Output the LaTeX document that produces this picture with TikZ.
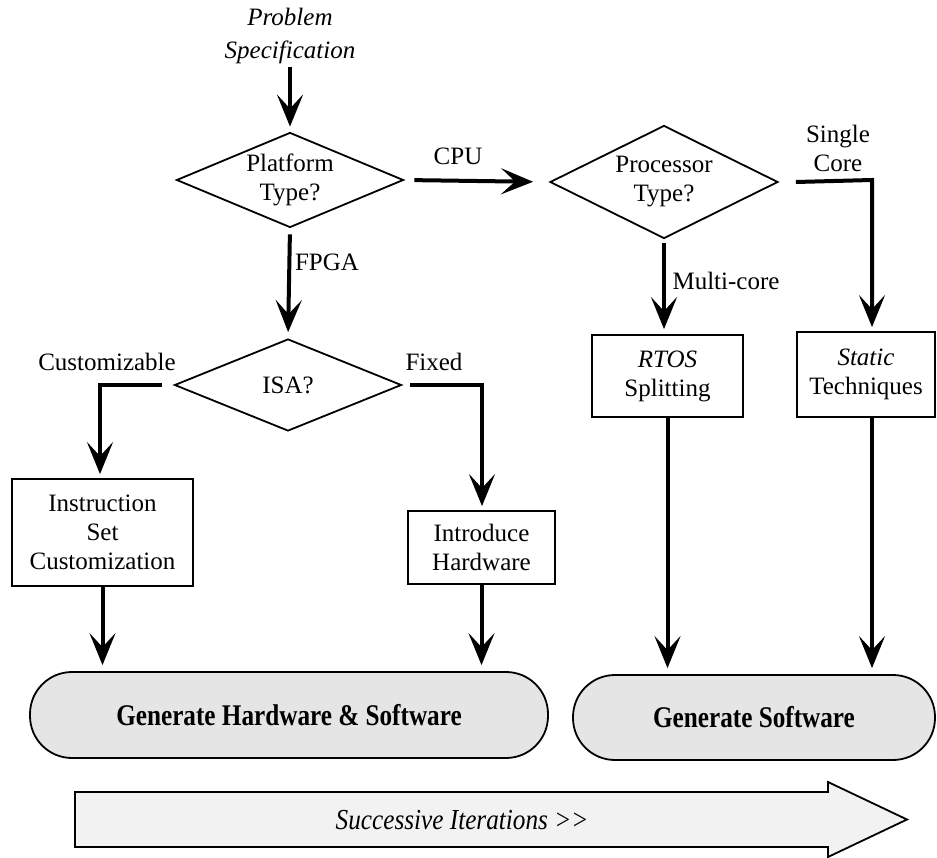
\documentclass[tikz,border=0pt]{standalone}
\usepackage{fontspec}
\setmainfont{Liberation Serif}
\usetikzlibrary{arrows.meta,shapes.geometric}

\tikzset{
  every node/.style={font=\fontsize{25}{29}\selectfont},
  decision/.style={diamond, draw, line width=1.8pt, inner sep=0pt},
  stepbox/.style={draw, line width=1.8pt, align=center, inner sep=0pt},
  result/.style={draw, line width=1.8pt, rounded corners=42pt, fill=gray!20, inner sep=0pt},
  flow/.style={line width=4pt, -{Stealth[length=32pt,width=26pt,inset=14pt]}},
  tag/.style={align=center, inner sep=0pt},
}

\begin{document}
\begin{tikzpicture}[x=1pt,y=-1pt]
\useasboundingbox (0,0) rectangle (937,858);

% start
\node[tag, font=\fontsize{25}{33}\selectfont\itshape] (spec) at (290,36) {Problem\\Specification};

% decisions
\node[decision, minimum width=227pt, minimum height=95pt,
      label={[align=center]center:Platform\\Type?}] (plat) at (290,180) {};
\node[decision, minimum width=228pt, minimum height=113pt,
      label={[align=center]center:Processor\\Type?}] (proc) at (664,182) {};
\node[decision, minimum width=227pt, minimum height=92pt,
      label={center:ISA?}] (isa) at (288,385) {};

% processing steps
\node[stepbox, minimum width=181pt, minimum height=107pt] (isc) at (102.5,532.5)
      {Instruction\\Set\\Customization};
\node[stepbox, minimum width=147pt, minimum height=73pt] (ihw) at (481.5,547.5)
      {Introduce\\Hardware};
\node[stepbox, minimum width=151pt, minimum height=82pt] (rtos) at (667.5,376)
      {\textit{RTOS}\\Splitting};
\node[stepbox, minimum width=138pt, minimum height=85pt] (stat) at (866,374.5)
      {\textit{Static}\\Techniques};

% outcomes
\node[result, minimum width=518pt, minimum height=86pt] (genhw) at (289,715)
      {\fontsize{30}{34}\selectfont\bfseries\scalebox{0.84}[1]{Generate Hardware \& Software}};
\node[result, minimum width=362pt, minimum height=85pt] (gensw) at (754,717.5)
      {\fontsize{30}{34}\selectfont\bfseries\scalebox{0.84}[1]{Generate Software}};

% iteration arrow
\draw[line width=1.8pt, fill=gray!10]
  (75,792) -- (828,792) -- (828,782) -- (907,819.5) -- (828,857) -- (828,847) -- (75,847) -- cycle;
\node[tag] (iter) at (462,820)
      {\fontsize{29}{34}\selectfont\itshape\scalebox{0.87}[1]{Successive Iterations >{}>}};

% branch labels
\node[tag] (lcpu) at (458,156) {CPU};
\node[tag] (lfpga) at (327,262) {FPGA};
\node[tag] (lmulti) at (726,281) {Multi-core};
\node[tag] (lsingle) at (838,148) {Single\\Core};
\node[tag] (lcust) at (107,362) {Customizable};
\node[tag] (lfixed) at (434,362) {Fixed};

% corner points of the bent connectors
\coordinate (cc) at (100,385);
\coordinate (fc) at (482,385);
\coordinate (sc) at (872,180);

% connectors
\draw[flow, shorten <=3pt, shorten >=5pt] (spec.south) -- (plat.north);
\draw[flow, shorten <=10pt, shorten >=16pt] (plat.east) -- (proc.west);
\draw[flow, shorten <=6pt, shorten >=6pt] (plat.south) -- (isa.north);
\draw[flow, shorten <=4pt, shorten >=5pt] (proc.south) -- (proc.south |- rtos.north);
\draw[flow, shorten >=4pt] ([xshift=17pt]proc.east) -- (sc) -- (sc |- stat.north);
\draw[flow, shorten >=4pt] ([xshift=-12pt]isa.west) -- (cc) -- (cc |- isc.north);
\draw[flow, shorten >=4pt] ([xshift=8pt]isa.east) -- (fc) -- (fc |- ihw.north);

\draw[flow, shorten >=6pt] (isc.south) -- (isc.south |- genhw.north);
\draw[flow, shorten >=6pt] (ihw.south) -- (ihw.south |- genhw.north);
\draw[flow, shorten >=6pt] (rtos.south) -- (rtos.south |- gensw.north);
\draw[flow, shorten >=6pt] (sc |- stat.south) -- (sc |- gensw.north);
\end{tikzpicture}
\end{document}
